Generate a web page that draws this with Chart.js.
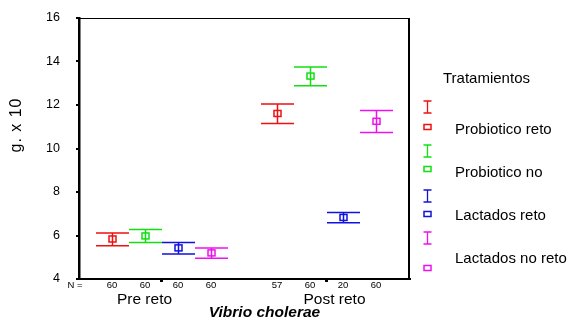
<!DOCTYPE html>
<html><head><meta charset="utf-8">
<script src="https://cdn.jsdelivr.net/npm/chart.js@4.4.1/dist/chart.umd.min.js"></script>
<style>html,body{margin:0;padding:0;background:#fff;overflow:hidden}#wrap{width:569px;height:322px;position:relative}</style>
</head><body><div id="wrap"><canvas id="c" width="569" height="322"></canvas></div>
<script>
const categories = ['Pre reto', 'Post reto'];
const seriesNames = ['Probiotico reto', 'Probiotico no', 'Lactados reto', 'Lactados no reto'];
const seriesColors = ['#ee1111', '#11e011', '#1111dd', '#ee11ee'];
const meanValues = [[5.84, 11.61], [5.98, 13.33], [5.43, 6.83], [5.20, 11.25]];
const lowValues  = [[5.53, 11.15], [5.68, 12.89], [5.15, 6.59], [4.95, 10.73]];
const highValues = [[6.11, 12.05], [6.28, 13.75], [5.68, 7.06], [5.43, 11.75]];
const nValues    = [[60, 57], [60, 60], [60, 20], [60, 60]];
const yTicks = [4, 6, 8, 10, 12, 14, 16];
const yTitle = 'g. x 10';
const xTitle = 'Vibrio cholerae';
const legendTitle = 'Tratamientos';

const FONT = '"Liberation Sans", Arial, sans-serif';

const datasets = seriesNames.map((name, i) => ({
  label: name,
  data: categories.map((c, j) => [lowValues[i][j], highValues[i][j]]),
  backgroundColor: 'rgba(0,0,0,0)',
  borderWidth: 0,
  barPercentage: 1.0,
  categoryPercentage: 0.8
}));

const errPlugin = {
  id: 'errbars',
  afterDatasetsDraw(chart) {
    const ctx = chart.ctx, y = chart.scales.y;
    chart.data.datasets.forEach((ds, i) => {
      const meta = chart.getDatasetMeta(i);
      meta.data.forEach((el, j) => {
        const x = Math.round(el.x) + 0.5, w = el.width;
        const yt = y.getPixelForValue(highValues[i][j]);
        const yb = y.getPixelForValue(lowValues[i][j]);
        const ym = y.getPixelForValue(meanValues[i][j]);
        ctx.save();
        ctx.strokeStyle = seriesColors[i];
        ctx.lineWidth = 1.5;
        ctx.beginPath();
        ctx.moveTo(x - w / 2, yt); ctx.lineTo(x + w / 2, yt);
        ctx.moveTo(x - w / 2, yb); ctx.lineTo(x + w / 2, yb);
        ctx.moveTo(x, yt); ctx.lineTo(x, yb);
        ctx.stroke();
        ctx.strokeRect(x - 3.5, ym - 3, 7, 6);
        ctx.restore();
      });
    });
  },
  afterDraw(chart) {
    const ctx = chart.ctx, a = chart.chartArea, xs = chart.scales.x;
    ctx.save();
    ctx.strokeStyle = '#000';
    ctx.lineWidth = 1;
    ctx.beginPath(); ctx.moveTo(a.left, a.top + 0.5); ctx.lineTo(a.right, a.top + 0.5); ctx.stroke();
    ctx.lineWidth = 2;
    ctx.beginPath(); ctx.moveTo(a.right, a.top); ctx.lineTo(a.right, a.bottom + 1); ctx.stroke();

    ctx.fillStyle = '#000';
    ctx.font = '9.5px ' + FONT;
    ctx.textAlign = 'center';
    ctx.textBaseline = 'middle';
    ctx.fillText('N =', 75, 285);
    chart.data.datasets.forEach((ds, i) => {
      chart.getDatasetMeta(i).data.forEach((el, j) => {
        ctx.fillText(String(nValues[i][j]), el.x, 285);
      });
    });
    ctx.font = '15.5px ' + FONT;
    const catShift = [-17, 8];
    categories.forEach((c, j) => {
      ctx.fillText(c, xs.getPixelForValue(j) + catShift[j], 300);
    });
    ctx.font = 'italic bold 15.5px ' + FONT;
    ctx.fillText(xTitle, 264.5, 313);
    ctx.save();
    ctx.translate(17, 125);
    ctx.rotate(-Math.PI / 2);
    ctx.font = '16px ' + FONT;
    ctx.letterSpacing = '1px';
    ctx.fillText(yTitle, 0, 0);
    ctx.restore();

    ctx.textAlign = 'left';
    ctx.font = '15px ' + FONT;
    ctx.fillText(legendTitle, 443, 79);
    const iY = [107, 151, 196, 238];
    const sqY = [127, 169, 214, 268];
    const lbY = [130, 173, 216, 259];
    seriesNames.forEach((n, i) => {
      ctx.strokeStyle = seriesColors[i];
      ctx.lineWidth = 1.3;
      const cx = 427.5;
      ctx.beginPath();
      ctx.moveTo(cx - 4, iY[i] - 6); ctx.lineTo(cx + 4, iY[i] - 6);
      ctx.moveTo(cx - 4, iY[i] + 6); ctx.lineTo(cx + 4, iY[i] + 6);
      ctx.moveTo(cx, iY[i] - 6); ctx.lineTo(cx, iY[i] + 6);
      ctx.stroke();
      ctx.lineWidth = 1.5;
      ctx.strokeRect(cx - 3.5, sqY[i] - 2.5, 7, 5);
      ctx.fillStyle = '#000';
      ctx.fillText(n, 455, lbY[i]);
    });
    ctx.restore();
  }
};

new Chart(document.getElementById('c'), {
  type: 'bar',
  data: { labels: categories, datasets },
  options: {
    responsive: false,
    animation: false,
    devicePixelRatio: 1,
    layout: { padding: { top: 18, right: 160, left: 0, bottom: 0 } },
    plugins: { legend: { display: false }, tooltip: { enabled: false } },
    scales: {
      x: {
        type: 'category',
        offset: true,
        grid: { display: true, drawOnChartArea: false, offset: false, tickLength: 3, lineWidth: 3, color: '#000' },
        border: { display: true, color: '#000', width: 2 },
        ticks: { display: false },
        afterFit(s) { s.height = 43; s.paddingLeft = 0; s.paddingRight = 0; }
      },
      y: {
        min: 4, max: 16,
        afterBuildTicks(s) { s.ticks = yTicks.map(v => ({ value: v })); },
        grid: { display: true, drawOnChartArea: false, tickLength: 3, lineWidth: 2, color: '#000' },
        border: { display: true, color: '#000', width: 2.5 },
        ticks: { color: '#000', font: { family: FONT, size: 12.5 }, padding: 16 },
        afterFit(s) { s.width = 79; s.paddingTop = 0; s.paddingBottom = 0; }
      }
    }
  },
  plugins: [errPlugin]
});
</script></body></html>
